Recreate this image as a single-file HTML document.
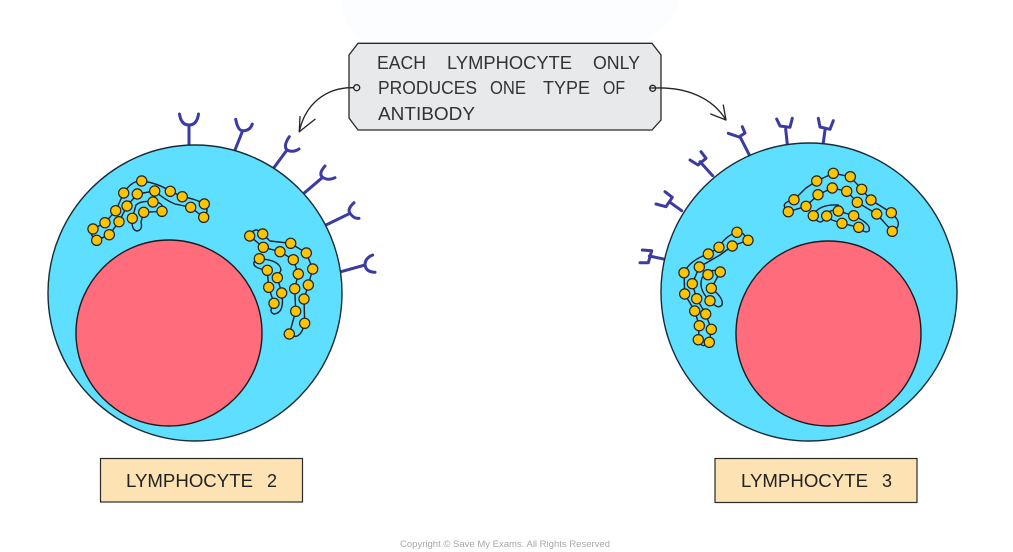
<!DOCTYPE html>
<html>
<head>
<meta charset="utf-8">
<style>
html,body{margin:0;padding:0;background:#fff;width:1013px;height:552px;overflow:hidden}
svg{display:block}
text{font-family:"Liberation Sans",sans-serif}
.t{font-size:18.5px;fill:#333}
.l{font-size:18px;fill:#222}
.ab{fill:none;stroke:#3b3ba2;stroke-width:3;stroke-linecap:round;stroke-linejoin:round}
.st{fill:none;stroke:#14202a;stroke-width:1.4;stroke-linejoin:round}
.b circle{r:5.1px;fill:#fdc400;stroke:#222;stroke-width:1.2}
</style>
</head>
<body>
<svg width="1013" height="552" viewBox="0 0 1013 552" xmlns="http://www.w3.org/2000/svg">
<rect width="1013" height="552" fill="#fff"/>
<!-- watermark -->
<path d="M340 0 L680 0 Q672 28 640 42 L360 42 Q345 25 340 0Z" fill="#fbfdfe"/>

<!-- Left antibodies -->
<g class="ab">
<path d="M189 146 V125 M179.5 114 Q181 125 189 125 Q197 125 198.5 114"/>
<path d="M234.3 151.7 L242.7 130.7 M235.7 119.3 Q238 131 242.7 130.7 Q250 131 252.3 124"/>
<path d="M272.7 169.3 L287 150 M289.3 136.7 Q283 146 287 150 Q293 153 299 149"/>
<path d="M302.7 194.3 L322.7 177.3 M325 166 Q318 174 322.7 177.3 Q328 181 335 177.7"/>
<path d="M326 225 L350 213.3 M354 202.7 Q347 209 350 213.3 Q354 219 359 218.3"/>
<path d="M341 271.7 L365 265 M372.7 255 Q365 258 365 265 Q366 272 375 272.3"/>
</g>
<!-- Right antibodies -->
<g class="ab">
<path d="M823.3 142.7 L825 130 M818.3 118.3 L820 127 L830 129.3 L833.3 120.7"/>
<path d="M787.3 144.3 L785.7 129.3 M776.7 119 L780 126 L790 127.3 L792.3 118.3"/>
<path d="M749 154.3 L740 136.7 M728.3 133.3 L739 137 L745 133 L742.3 126.7"/>
<path d="M712.7 175.7 L700 161.7 M690 160 L698 165 L706 158.3 L701 151.7"/>
<path d="M681.7 210.7 L670 202.3 M656 204 L666 206.7 L672.3 197.3 L665 191.7"/>
<path d="M665 259.3 L649.3 256 M642.3 250 L651.7 250.7 L648.3 262.7 L640 262.7"/>
</g>

<!-- Left cell -->
<path d="M195 145 C276 145 342 212 342 293 C342 374 276 441 195 441 C114 441 48 374 48 293 C48 212 114 145 195 145Z" fill="#5fdfff" stroke="#1a2a33" stroke-width="1.4"/>
<path d="M169 240 C220 240 262 282 262 333 C262 384 220 426 169 426 C118 426 76 384 76 333 C76 282 118 240 169 240Z" fill="#ff6d7c" stroke="#1a1a1a" stroke-width="1.4"/>

<!-- Right cell -->
<path d="M809 143 C891 143 957 210 957 292 C957 374 891 441 809 441 C727 441 661 374 661 292 C661 210 727 143 809 143Z" fill="#5fdfff" stroke="#1a2a33" stroke-width="1.4"/>
<path d="M828.5 241 C880 241 921 282 921 333.5 C921 385 880 426 828.5 426 C777 426 736 385 736 333.5 C736 282 777 241 828.5 241Z" fill="#ff6d7c" stroke="#1a1a1a" stroke-width="1.4"/>

<!-- Strings -->
<g class="st">
<path d="M96.7 240.3 Q88 234 93 229 L105 222.7 L115.7 210.7 L123.7 193 Q132 180 141.7 181 Q158 183 170.3 191.3 L182.3 196.7 Q196 199 204.3 204 Q210 210 203.7 217.3"/>
<path d="M96.7 240.3 L109.3 234.7 L119 221.7 L127 206 L137.3 194 L154.7 191 Q165 200 175 204 L190.7 207.3 L203.7 217.3"/>
<path d="M132.3 218.3 Q131 230 137 231 Q143 230 141 222 L143.7 212.3 L162 211.3"/>
<path d="M132.3 218.3 L136 205 Q142 200 153 202 Q165 202 162 211.3"/>

<path d="M249.7 236 Q255 225 262.7 234 L270 241 L290.7 243.3 L306.3 253 L312.7 269 L308.3 285 L304 299 L304.7 323.3 Q300 342 289.3 334"/>
<path d="M249.7 236 L263.3 247.3 L280 251.7 L293.3 259.7 L298.3 274 L294.7 288.7 L295.7 311.3 L289.3 334"/>
<path d="M259.3 258.7 Q280 260 281 270 L277.3 277.7 L281.7 293 Q285 313 274 314 Q268 312 274 303.3 L268.7 287.3 L267.3 270.3 Q252 268 254 262 L259.3 258.7"/>

<path d="M788.3 211.7 Q778 203 794 199.7 L806 188 L816.7 181 L833.3 173.3 L850.3 176.7 L861.7 189.3 L871 200 L891.3 212.7 Q905 225 892.3 231.3 L876.7 214 L857.3 202.3 L846.7 191.3 L832.3 188 L818 194.7 L806 206.3 L788.3 211.7"/>
<path d="M813.3 215.7 Q820 228 826.7 216 Q830 208 838.3 211 L853.7 215.7 Q872 224 869 231 Q865 234 858.7 227.3 L842 223.3 L832 220 L826.7 216"/>
<path d="M813.3 215.7 Q818 204 838.3 205 L838.3 211"/>

<path d="M748 240.3 Q742 230 737 232.3 Q725 236 719 247.3 L708.3 254 Q690 260 684 272.7 L684.7 294 L694.7 311 L699.3 325.7 L698.3 339.7 Q702 350 709.3 342.3 L711.3 329.3 L705.7 314 L696.7 298.7 L692.3 283.7 L699.3 267 L720 255 L732.3 246 L748 240.3"/>
<path d="M710 300.7 Q718 310 722 305 Q724 298 711.3 288.3 L720.3 272 Q710 267 702 278 Q698 290 710 300.7"/>
</g>

<!-- Beads -->
<g class="b">
<circle cx="141.7" cy="181"/><circle cx="123.7" cy="193"/><circle cx="137.3" cy="194"/><circle cx="154.7" cy="191"/><circle cx="170.3" cy="191.3"/><circle cx="182.3" cy="196.7"/><circle cx="190.7" cy="207.3"/><circle cx="204.3" cy="204"/><circle cx="203.7" cy="217.3"/><circle cx="153" cy="202"/><circle cx="162" cy="211.3"/><circle cx="143.7" cy="212.3"/><circle cx="132.3" cy="218.3"/><circle cx="127" cy="206"/><circle cx="115.7" cy="210.7"/><circle cx="119" cy="221.7"/><circle cx="105" cy="222.7"/><circle cx="109.3" cy="234.7"/><circle cx="93" cy="229"/><circle cx="96.7" cy="240.3"/>

<circle cx="249.7" cy="236"/><circle cx="262.7" cy="234"/><circle cx="290.7" cy="243.3"/><circle cx="306.3" cy="253"/><circle cx="312.7" cy="269"/><circle cx="308.3" cy="285"/><circle cx="304" cy="299"/><circle cx="304.7" cy="323.3"/><circle cx="289.3" cy="334"/><circle cx="295.7" cy="311.3"/><circle cx="294.7" cy="288.7"/><circle cx="298.3" cy="274"/><circle cx="293.3" cy="259.7"/><circle cx="280" cy="251.7"/><circle cx="263.3" cy="247.3"/><circle cx="259.3" cy="258.7"/><circle cx="267.3" cy="270.3"/><circle cx="277.3" cy="277.7"/><circle cx="268.7" cy="287.3"/><circle cx="281.7" cy="293"/><circle cx="274" cy="303.3"/>

<circle cx="833.3" cy="173.3"/><circle cx="850.3" cy="176.7"/><circle cx="816.7" cy="181"/><circle cx="861.7" cy="189.3"/><circle cx="871" cy="200"/><circle cx="891.3" cy="212.7"/><circle cx="892.3" cy="231.3"/><circle cx="876.7" cy="214"/><circle cx="857.3" cy="202.3"/><circle cx="846.7" cy="191.3"/><circle cx="832.3" cy="188"/><circle cx="818" cy="194.7"/><circle cx="806" cy="206.3"/><circle cx="794" cy="199.7"/><circle cx="788.3" cy="211.7"/><circle cx="813.3" cy="215.7"/><circle cx="826.7" cy="216"/><circle cx="838.3" cy="211"/><circle cx="853.7" cy="215.7"/><circle cx="842" cy="223.3"/><circle cx="858.7" cy="227.3"/>

<circle cx="737" cy="232.3"/><circle cx="748" cy="240.3"/><circle cx="732.3" cy="246"/><circle cx="719" cy="247.3"/><circle cx="708.3" cy="254"/><circle cx="699.3" cy="267"/><circle cx="684" cy="272.7"/><circle cx="692.3" cy="283.7"/><circle cx="684.7" cy="294"/><circle cx="696.7" cy="298.7"/><circle cx="694.7" cy="311"/><circle cx="705.7" cy="314"/><circle cx="699.3" cy="325.7"/><circle cx="711.3" cy="329.3"/><circle cx="698.3" cy="339.7"/><circle cx="709.3" cy="342.3"/><circle cx="708" cy="274.7"/><circle cx="720.3" cy="272"/><circle cx="711.3" cy="288.3"/><circle cx="710" cy="300.7"/>
</g>

<!-- Callout box -->
<path d="M358 43.3 H652 L661 55 V120 L652 130 H358 L349 118 V55Z" fill="#e8e9ea" stroke="#2a2a2a" stroke-width="1.3"/>
<g class="t">
<text x="377" y="69" textLength="49" lengthAdjust="spacingAndGlyphs">EACH</text>
<text x="447" y="69" textLength="125" lengthAdjust="spacingAndGlyphs">LYMPHOCYTE</text>
<text x="593" y="69" textLength="47" lengthAdjust="spacingAndGlyphs">ONLY</text>
<text x="378" y="94" textLength="99" lengthAdjust="spacingAndGlyphs">PRODUCES</text>
<text x="490" y="94" textLength="36" lengthAdjust="spacingAndGlyphs">ONE</text>
<text x="543" y="94" textLength="47" lengthAdjust="spacingAndGlyphs">TYPE</text>
<text x="603" y="94" textLength="22" lengthAdjust="spacingAndGlyphs">OF</text>
<text x="378" y="120" textLength="97" lengthAdjust="spacingAndGlyphs">ANTIBODY</text>
</g>

<!-- Connectors -->
<g fill="none" stroke="#222" stroke-width="1.3" stroke-linecap="round" stroke-linejoin="round">
<circle cx="356.7" cy="87.7" r="3" fill="#e8e9ea"/>
<path d="M353.7 87.7 C325 87 305 105 299.3 131.7"/>
<path d="M300 116.7 L299.3 131.7 L315 119.3"/>
<circle cx="652.7" cy="88.3" r="3" fill="#e8e9ea"/>
<path d="M650 88 H656 C685 87 712 97 726 120"/>
<path d="M723.3 105 L726 120 L710.7 114"/>
</g>

<!-- Labels -->
<rect x="100.5" y="458.5" width="202" height="43.5" fill="#fde3b4" stroke="#2a2a2a" stroke-width="1.2"/>
<text class="l" x="126" y="487" textLength="127" lengthAdjust="spacingAndGlyphs">LYMPHOCYTE</text>
<text class="l" x="267" y="487" textLength="10" lengthAdjust="spacingAndGlyphs">2</text>
<rect x="715" y="458.5" width="202" height="44" fill="#fde3b4" stroke="#2a2a2a" stroke-width="1.2"/>
<text class="l" x="741" y="487" textLength="127" lengthAdjust="spacingAndGlyphs">LYMPHOCYTE</text>
<text class="l" x="882" y="487" textLength="10" lengthAdjust="spacingAndGlyphs">3</text>

<text x="400" y="547" font-size="9.5" fill="#a8a8a8" textLength="210" lengthAdjust="spacingAndGlyphs">Copyright © Save My Exams. All Rights Reserved</text>
</svg>
</body>
</html>
